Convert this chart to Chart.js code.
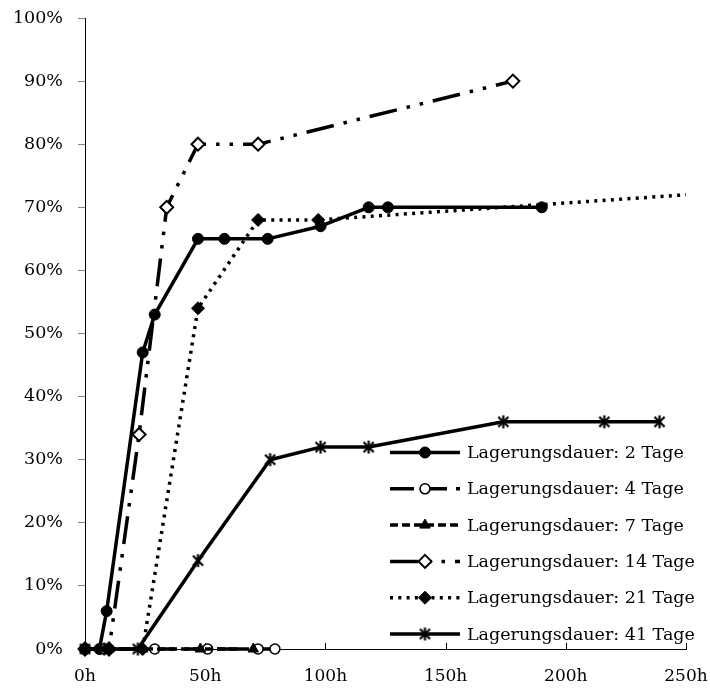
<!DOCTYPE html>
<html>
<head>
<meta charset="utf-8">
<script src="https://cdn.jsdelivr.net/npm/chart.js@4/dist/chart.umd.min.js"></script>
<style>
  html, body { margin: 0; padding: 0; background: #fff; }
  #wrap { width: 710px; height: 689px; }
</style>
</head>
<body>
<div id="wrap"><canvas id="chart" width="710" height="689"></canvas></div>
<script>
// Keimrate (%) über die Zeit (h), je Lagerungsdauer
const seriesNames = [
  "Lagerungsdauer: 2 Tage",
  "Lagerungsdauer: 4 Tage",
  "Lagerungsdauer: 7 Tage",
  "Lagerungsdauer: 14 Tage",
  "Lagerungsdauer: 21 Tage",
  "Lagerungsdauer: 41 Tage"
];

const hours2 = [0, 6, 9, 24, 29, 47, 58, 76, 98, 118, 126, 190];
const pct2 = [0, 0, 6, 47, 53, 65, 65, 65, 67, 70, 70, 70];

const hours4 = [0, 8, 29, 51, 72, 79];
const pct4 = [0, 0, 0, 0, 0, 0];

const hours7 = [0, 10, 24, 48, 70];
const pct7 = [0, 0, 0, 0, 0];

const hours14 = [0, 10, 22.5, 34, 47, 72, 178];
const pct14 = [0, 0, 34, 70, 80, 80, 90];

const hours21 = [0, 10, 24, 47, 72, 97, 262];
const pct21 = [0, 0, 0, 54, 68, 68, 72.3];

const hours41 = [0, 8, 22, 47, 77, 98, 118, 174, 216, 239];
const pct41 = [0, 0, 0, 14, 30, 32, 32, 36, 36, 36];

const xTicks = [0, 50, 100, 150, 200, 250];
const yTicks = [0, 10, 20, 30, 40, 50, 60, 70, 80, 90, 100];

const FONT = { family: "'DejaVu Serif', serif", size: 17.5 };
const XFONT = { family: "'DejaVu Serif', serif", size: 17 };

// asterisk marker: vertical stroke plus an X
function asterisk(size) {
  const c = document.createElement('canvas');
  c.width = c.height = size;
  const g = c.getContext('2d');
  const m = size / 2, r = size / 2 - 1, d = r * 0.78;
  g.strokeStyle = '#000';
  g.lineWidth = 2.2;
  g.beginPath();
  g.moveTo(m, m - r); g.lineTo(m, m + r);
  g.moveTo(m - d, m - d); g.lineTo(m + d, m + d);
  g.moveTo(m + d, m - d); g.lineTo(m - d, m + d);
  g.stroke();
  return c;
}

const toPoints = (xs, ys) => xs.map((x, i) => ({ x, y: ys[i] }));

const styles = [
  { dash: [], point: 'circle', radius: 5.5, fill: '#000', bw: 1 },
  { dash: [24, 9], point: 'circle', radius: 5, fill: '#fff', bw: 1.6 },
  { dash: [8, 4], point: 'triangle', radius: 6, fill: '#000', bw: 1 },
  { dash: [28, 10, 3.5, 10, 3.5, 10], point: 'rectRot', radius: 6.5, fill: '#fff', bw: 2 },
  { dash: [3, 5.3], point: 'rectRot', radius: 6.5, fill: '#000', bw: 1 },
  { dash: [], point: asterisk(15), radius: 7, fill: '#000', bw: 1 }
];

const seriesData = [
  toPoints(hours2, pct2),
  toPoints(hours4, pct4),
  toPoints(hours7, pct7),
  toPoints(hours14, pct14),
  toPoints(hours21, pct21),
  toPoints(hours41, pct41)
];

const datasets = seriesNames.map((name, i) => ({
  label: name,
  data: seriesData[i],
  borderColor: '#000',
  borderWidth: 3.5,
  borderDash: styles[i].dash,
  borderCapStyle: 'butt',
  borderJoinStyle: 'round',
  pointStyle: styles[i].point,
  pointRadius: styles[i].radius,
  pointBackgroundColor: styles[i].fill,
  pointBorderColor: '#000',
  pointBorderWidth: styles[i].bw,
  showLine: true,
  tension: 0,
  order: seriesNames.length - i,
  clip: { left: 12, top: 12, bottom: 12, right: 0 }
}));

// upward tick marks on the x axis
const innerXTicks = {
  id: 'innerXTicks',
  beforeDatasetsDraw(chart) {
    const { ctx, chartArea } = chart;
    const x = chart.scales.x;
    ctx.save();
    ctx.strokeStyle = '#000';
    ctx.lineWidth = 1;
    x.ticks.forEach(t => {
      const px = Math.round(x.getPixelForValue(t.value)) + 0.5;
      ctx.beginPath();
      ctx.moveTo(px, chartArea.bottom);
      ctx.lineTo(px, chartArea.bottom - 6);
      ctx.stroke();
    });
    ctx.restore();
  }
};

// legend with line sample and marker for each series
const lineLegend = {
  id: 'lineLegend',
  afterDraw(chart, args, opts) {
    const { ctx } = chart;
    ctx.save();
    chart.data.datasets.forEach((ds, i) => {
      const y = opts.top + i * opts.rowGap;
      const x0 = opts.left, x1 = opts.left + opts.sample;
      ctx.strokeStyle = '#000';
      ctx.lineWidth = ds.borderWidth;
      ctx.lineCap = 'butt';
      ctx.setLineDash(ds.borderDash);
      ctx.beginPath();
      ctx.moveTo(x0, y);
      ctx.lineTo(x1, y);
      ctx.stroke();
      ctx.setLineDash([]);
      ctx.fillStyle = ds.pointBackgroundColor;
      ctx.lineWidth = ds.pointBorderWidth;
      Chart.helpers.drawPoint(ctx, {
        pointStyle: ds.pointStyle,
        radius: ds.pointRadius,
        borderWidth: ds.pointBorderWidth,
        rotation: 0
      }, (x0 + x1) / 2, y);
      ctx.fillStyle = '#000';
      ctx.font = `${FONT.size}px ${FONT.family}`;
      ctx.textBaseline = 'middle';
      ctx.textAlign = 'left';
      ctx.fillText(ds.label, x1 + 7, y + 1);
    });
    ctx.restore();
  }
};

new Chart(document.getElementById('chart'), {
  type: 'line',
  data: { datasets },
  plugins: [innerXTicks, lineLegend],
  options: {
    responsive: false,
    animation: false,
    devicePixelRatio: 1,
    layout: { padding: { top: 18, right: 24, bottom: 0, left: 0 } },
    plugins: {
      legend: { display: false },
      tooltip: { enabled: false },
      lineLegend: { left: 390, top: 452.5, rowGap: 36.3, sample: 70 }
    },
    scales: {
      x: {
        type: 'linear',
        min: 0,
        max: 250,
        afterBuildTicks: s => { s.ticks = xTicks.map(v => ({ value: v })); },
        afterFit: s => { s.height = 40; s.paddingLeft = 0; s.paddingRight = 0; },
        grid: { display: false },
        border: { display: true, color: '#000', width: 1 },
        ticks: {
          color: '#000',
          font: XFONT,
          padding: 9,
          maxRotation: 0,
          callback: v => v + 'h'
        }
      },
      y: {
        min: 0,
        max: 100,
        afterBuildTicks: s => { s.ticks = yTicks.map(v => ({ value: v })); },
        afterFit: s => { s.width = 85; s.paddingTop = 0; s.paddingBottom = 0; },
        grid: { drawOnChartArea: false, drawTicks: true, tickLength: 7, color: '#868686' },
        border: { display: true, color: '#000', width: 1 },
        ticks: {
          color: '#000',
          font: FONT,
          padding: 15,
          callback: v => v + '%'
        }
      }
    }
  }
});
</script>
</body>
</html>
